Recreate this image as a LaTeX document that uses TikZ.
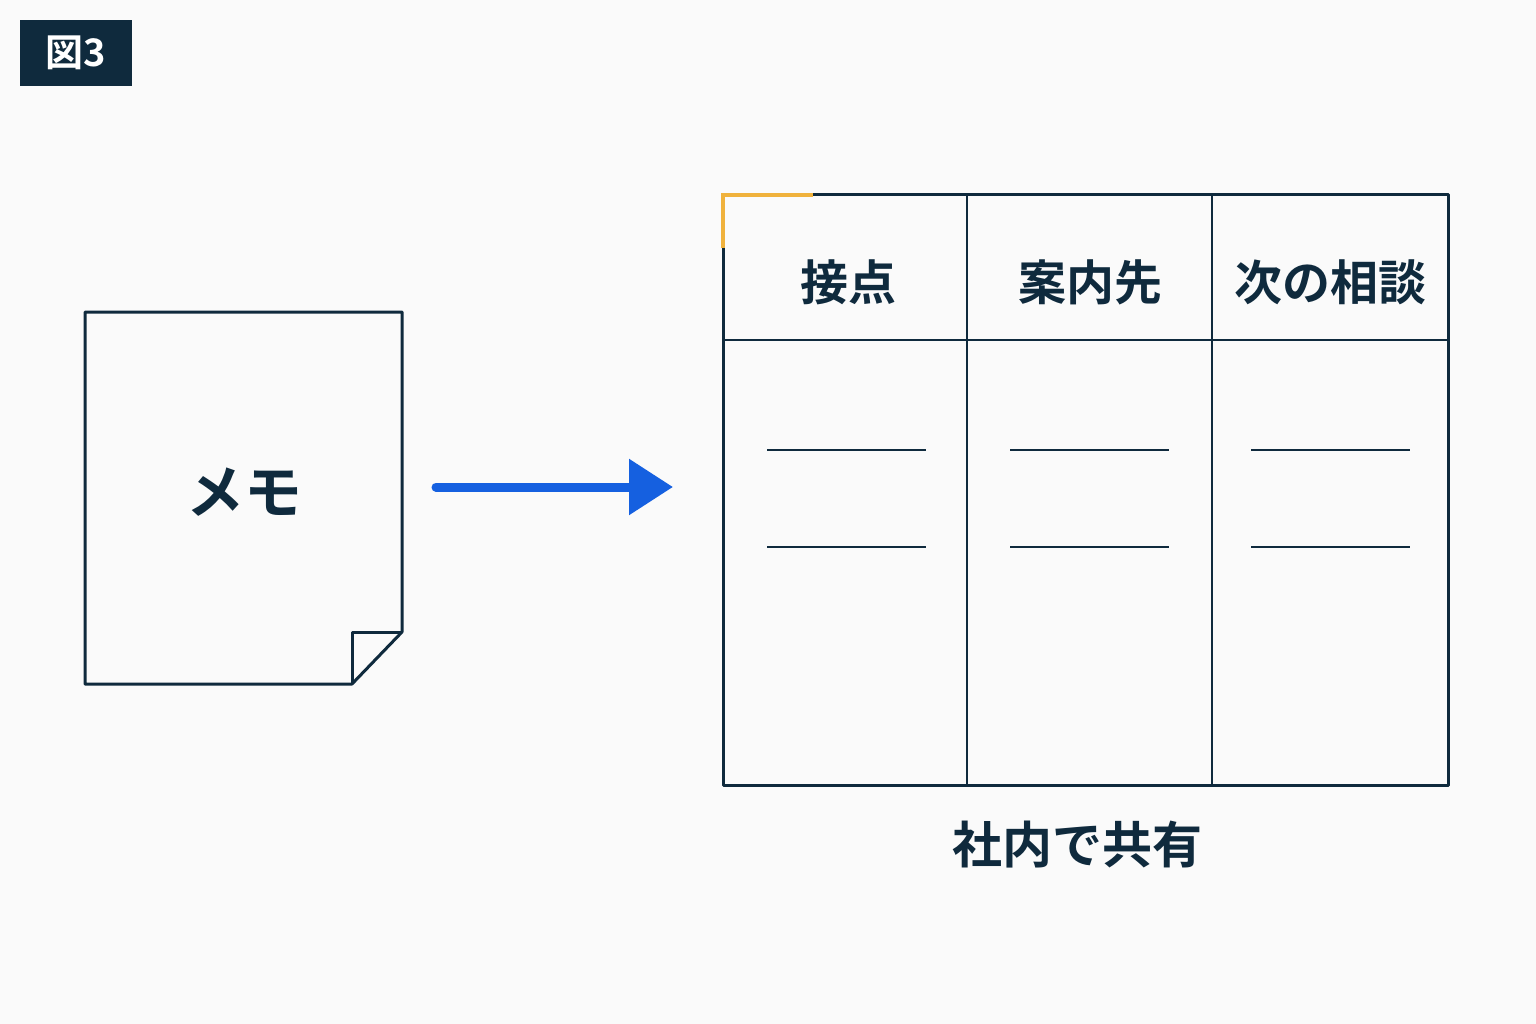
\documentclass[tikz,border=0pt]{standalone}
\usepackage{fontspec}
\newfontfamily\cjk{Noto Sans CJK JP Bold}
\usetikzlibrary{arrows.meta}
\definecolor{navy}{HTML}{0F2A3D}
\definecolor{bg}{HTML}{FAFAFA}
\definecolor{blu}{HTML}{1560E0}
\definecolor{org}{HTML}{F0B23C}
\begin{document}
\begin{tikzpicture}[x=1pt,y=-1pt,
  ln/.style={draw=navy,line width=3pt,line join=round},
  thin/.style={draw=navy,line width=2.2pt},
  txt/.style={font=\cjk\fontsize{48}{52}\selectfont,text=navy,inner sep=0pt}]
\fill[bg] (0,0) rectangle (1536,1024);
\useasboundingbox (0,0) rectangle (1536,1024);
\node[fill=navy,minimum width=112pt,minimum height=66pt,inner sep=0pt,text=white,font=\cjk\fontsize{38}{40}\selectfont] (fig) at (76,53) {図3};
% memo
\draw[ln] (85,312) -- (402,312) -- (402,632) -- (352,684) -- (85,684) -- cycle;
\draw[ln] (352,684) -- (352,632) -- (402,632);
\node[txt,font=\cjk\fontsize{58}{60}\selectfont] (memo) at (244,492) {メモ};
% arrow
\coordinate (a1) at (436,487);
\coordinate (a2) at (673,487);
\draw[blu,line width=9pt,line cap=round,-{Triangle[length=44pt,width=54pt]}] (a1) -- (a2);
% table
\draw[ln] (723,195) rectangle (1448,785);
\draw[thin] (967,195) -- (967,785);
\draw[thin] (1212,195) -- (1212,785);
\draw[thin] (723,340) -- (1448,340);
\draw[org,line width=3.5pt] (723,248) -- (723,195) -- (813,195);
\node[txt] (h1) at (848,282) {接点};
\node[txt] (h2) at (1090,282) {案内先};
\node[txt] (h3) at (1330,282) {次の相談};
\foreach \x in {767,1010,1251}{
  \draw[thin] (\x,450) -- ++(159,0);
  \draw[thin] (\x,547) -- ++(159,0);
}
\node[txt,font=\cjk\fontsize{50}{54}\selectfont] (cap) at (1077,845) {社内で共有};
\end{tikzpicture}
\end{document}
